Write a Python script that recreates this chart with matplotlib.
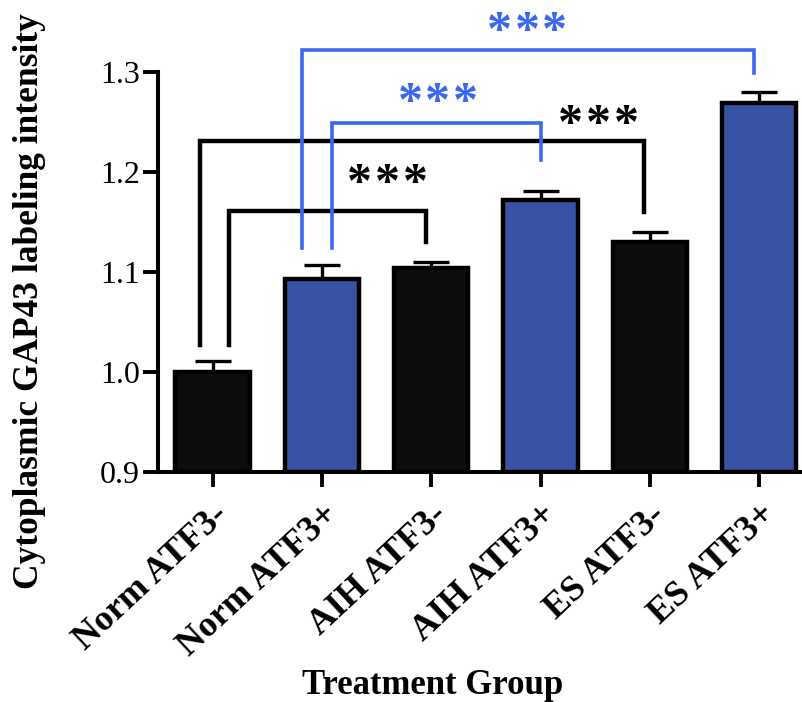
import matplotlib
matplotlib.use("Agg")
import matplotlib.pyplot as plt
import numpy as np

# data
groups = ["Norm ATF3-", "Norm ATF3+", "AIH ATF3-", "AIH ATF3+", "ES ATF3-", "ES ATF3+"]
means = [1.000, 1.093, 1.104, 1.172, 1.130, 1.269]
sems = [0.011, 0.014, 0.006, 0.009, 0.010, 0.011]
bar_colors = ["#0b0d0e", "#3953a4", "#0b0d0e", "#3953a4", "#0b0d0e", "#3953a4"]

# significance brackets: (left x, right x, left foot, right foot, top, colour, star x, star y)
brackets = [
    (0.15, 1.95, 1.027, 1.130, 1.161, "black", 1.60, 1.187),
    (-0.12, 3.95, 1.027, 1.160, 1.231, "black", 3.53, 1.246),
    (1.09, 3.00, 1.124, 1.212, 1.249, "#3a66f2", 2.06, 1.268),
    (0.82, 4.95, 1.124, 1.299, 1.322, "#3a66f2", 2.875, 1.339),
]

plt.rcParams["font.family"] = ["Liberation Serif", "DejaVu Serif"]

fig = plt.figure(figsize=(8.03, 7.02), dpi=100)
ax = fig.add_axes([158 / 803, 1 - 472 / 702, 1 - 158 / 803, 400 / 702])

x = np.arange(len(groups))
ax.bar(x, np.array(means) - 0.9, bottom=0.9, width=0.68, color=bar_colors,
       edgecolor="black", linewidth=3.2, zorder=2)
ax.errorbar(x, means, yerr=[np.zeros(len(sems)), sems], fmt="none", ecolor="black",
            elinewidth=2.4, capsize=13, capthick=2.4, zorder=1)

for x1, x2, f1, f2, top, col, sx, sy in brackets:
    lw = 3.2 if col == "black" else 2.6
    ax.plot([x1, x1, x2, x2], [f1, top, top, f2], color=col, lw=lw,
            clip_on=False, solid_joinstyle="miter", zorder=3)
    # three stars, spaced a little apart like the original
    for k in (-1, 0, 1):
        ax.annotate("*", (sx, sy), xytext=(k * 20, 0), textcoords="offset points",
                    color=col, fontsize=36, fontweight="bold",
                    ha="center", va="center", annotation_clip=False)

ax.set_ylim(0.9, 1.3)
ax.set_xlim(-0.5, 5.4)
ax.set_yticks([0.9, 1.0, 1.1, 1.2, 1.3])
ax.set_yticklabels(["0.9", "1.0", "1.1", "1.2", "1.3"], fontsize=23)
ax.set_xticks(x)
ax.set_xticklabels(groups, rotation=43, ha="right", rotation_mode="anchor",
                   fontsize=26, fontweight="bold")
ax.tick_params(axis="both", direction="out", length=11, width=2.8)
ax.tick_params(axis="y", pad=2)
ax.tick_params(axis="x", pad=8)

for s in ["top", "right"]:
    ax.spines[s].set_visible(False)
for s in ["left", "bottom"]:
    ax.spines[s].set_linewidth(2.9)

ax.set_ylabel("Cytoplasmic GAP43 labeling intensity", fontsize=25.5, fontweight="bold")
ax.yaxis.set_label_coords(-0.174, 0.4275)
ax.set_xlabel("Treatment Group", fontsize=25, fontweight="bold")
ax.xaxis.set_label_coords(0.426, -0.492)

fig.savefig("out.png", dpi=100)
